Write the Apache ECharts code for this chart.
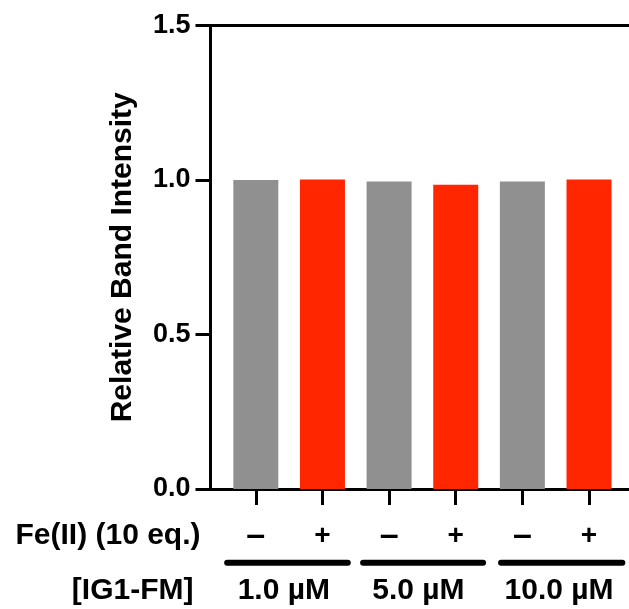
<!DOCTYPE html>
<html>
<head>
<meta charset="utf-8">
<script src="https://cdn.jsdelivr.net/npm/echarts@6/dist/echarts.min.js"></script>
<style>
  html, body { margin: 0; padding: 0; background: #fff; }
  #main { width: 629px; height: 609px; }
</style>
</head>
<body>
<div id="main"></div>
<script>
// bar positions (x value), values, Fe(II) flag per bar
var barPos = [1, 2, 3, 4, 5, 6];
var barValues = [1.0, 1.002, 0.995, 0.985, 0.995, 1.002];
var feLabels = ['–', '+', '–', '+', '–', '+'];
// concentration groups
var concLabels = ['1.0 µM', '5.0 µM', '10.0 µM'];
var concPos = [1.42, 3.44, 5.55];
var groupStart = [0.57, 2.61, 4.68];
var groupEnd = [2.38, 4.41, 6.5];
var groupLineY = -0.2385;

var FONT = "'Liberation Sans', Arial, sans-serif";
var myChart = echarts.init(document.getElementById('main'));

var barData = [];
for (var i = 0; i < barPos.length; i++) {
    barData.push({
        value: [barPos[i], barValues[i]],
        itemStyle: { color: feLabels[i] == '+' ? '#ff2600' : '#909090' }
    });
}
var lineData = [];
for (var j = 0; j < groupStart.length; j++) {
    lineData.push([groupStart[j], groupEnd[j], groupLineY]);
}

var option = {
    animation: false,
    backgroundColor: '#fff',
    grid: { left: 210.5, right: 0, top: 25.5, bottom: 120 },
    xAxis: [
        {
            // main axis: line and ticks under each bar
            type: 'value', position: 'bottom', min: 0.32, max: 6.6,
            axisLine: { show: true, lineStyle: { color: '#000', width: 3 } },
            axisTick: { show: true, customValues: barPos, length: 16, lineStyle: { color: '#000', width: 3 } },
            axisLabel: { show: false },
            splitLine: { show: false }
        },
        {
            // Fe(II) row
            type: 'value', position: 'bottom', offset: 47, min: 0.32, max: 6.6,
            axisLine: { show: false }, axisTick: { show: false }, splitLine: { show: false },
            axisLabel: {
                customValues: barPos, margin: 0, verticalAlign: 'middle',
                color: '#000', fontFamily: FONT, fontWeight: 'bold', fontSize: 28,
                formatter: function (v) {
                    var s = feLabels[barPos.indexOf(v)] || '';
                    return s == '–' ? '{d|' + s + '}' : s;
                },
                rich: {
                    d: { color: '#000', fontFamily: FONT, fontWeight: 'bold', fontSize: 34, verticalAlign: 'middle' }
                }
            },
            name: 'Fe(II) (10 eq.)', nameLocation: 'start', nameGap: 10,
            nameTextStyle: { color: '#000', fontFamily: FONT, fontWeight: 'bold', fontSize: 30, verticalAlign: 'middle' }
        },
        {
            // concentration row
            type: 'value', position: 'bottom', offset: 102, min: 0.32, max: 6.6,
            axisLine: { show: false }, axisTick: { show: false }, splitLine: { show: false },
            axisLabel: {
                customValues: concPos, margin: 0, verticalAlign: 'middle',
                color: '#000', fontFamily: FONT, fontWeight: 'bold', fontSize: 30,
                formatter: function (v) { return concLabels[concPos.indexOf(v)] || ''; }
            },
            name: '[IG1-FM]', nameLocation: 'start', nameGap: 17,
            nameTextStyle: { color: '#000', fontFamily: FONT, fontWeight: 'bold', fontSize: 30, verticalAlign: 'middle' }
        },
        {
            // top frame line at 1.5
            type: 'value', position: 'top', min: 0.32, max: 6.6,
            axisLine: { show: true, lineStyle: { color: '#000', width: 3 } },
            axisTick: { show: false }, axisLabel: { show: false }, splitLine: { show: false }
        }
    ],
    yAxis: {
        type: 'value', min: 0, max: 1.5, interval: 0.5,
        axisLine: { show: true, lineStyle: { color: '#000', width: 3 } },
        axisTick: { show: true, length: 15, lineStyle: { color: '#000', width: 3 } },
        splitLine: { show: false },
        axisLabel: {
            margin: 20, color: '#000', fontFamily: FONT, fontWeight: 'bold', fontSize: 27,
            formatter: function (v) { return v.toFixed(1); }
        },
        name: 'Relative Band Intensity', nameLocation: 'middle', nameGap: 73,
        nameTextStyle: { color: '#000', fontFamily: FONT, fontWeight: 'bold', fontSize: 30 }
    },
    series: [
        {
            name: 'Relative Band Intensity',
            type: 'bar',
            xAxisIndex: 0, yAxisIndex: 0,
            barWidth: 45,
            data: barData
        },
        {
            // group underlines
            type: 'custom',
            xAxisIndex: 0, yAxisIndex: 0,
            clip: false,
            silent: true,
            data: lineData,
            renderItem: function (params, api) {
                var p1 = api.coord([api.value(0), api.value(2)]);
                var p2 = api.coord([api.value(1), api.value(2)]);
                return {
                    type: 'line',
                    shape: { x1: p1[0], y1: p1[1], x2: p2[0], y2: p2[1] },
                    style: { stroke: '#000', lineWidth: 6, lineCap: 'round' }
                };
            }
        }
    ]
};
if (option && typeof option === "object") {
    myChart.setOption(option, true);
}
</script>
</body>
</html>
